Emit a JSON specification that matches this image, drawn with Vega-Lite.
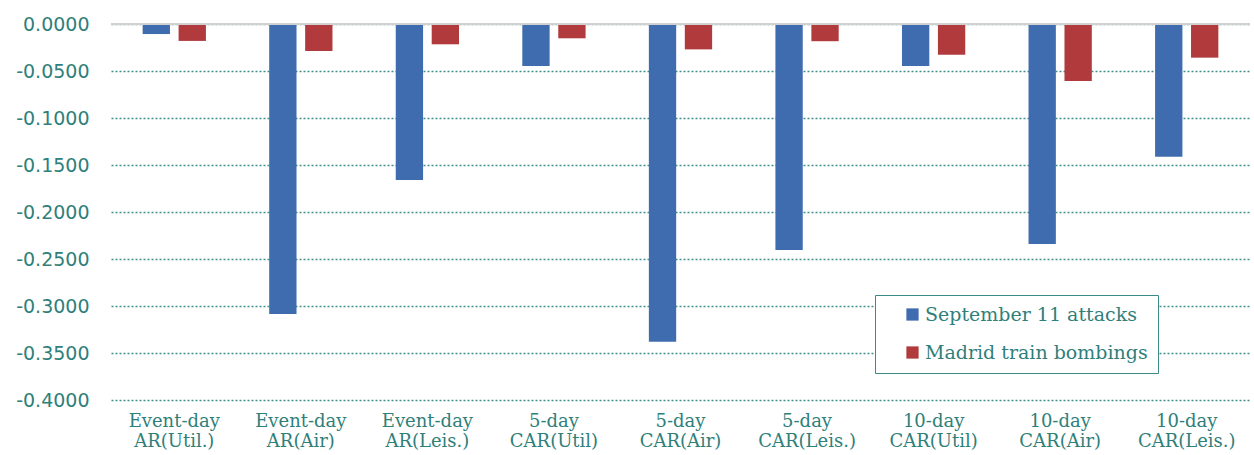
{
  "$schema": "https://vega.github.io/schema/vega-lite/v6.json",
  "width": 1139,
  "height": 376,
  "autosize": "none",
  "padding": {"left": 111, "top": 24, "right": 4, "bottom": 55},
  "background": "white",
  "config": {"view": {"stroke": null}},
  "data": {"values": [
    {"cat": "Event-day AR(Util.)", "event": "September 11 attacks", "v": -0.0107},
    {"cat": "Event-day AR(Util.)", "event": "Madrid train bombings", "v": -0.0180},
    {"cat": "Event-day AR(Air)", "event": "September 11 attacks", "v": -0.3085},
    {"cat": "Event-day AR(Air)", "event": "Madrid train bombings", "v": -0.0287},
    {"cat": "Event-day AR(Leis.)", "event": "September 11 attacks", "v": -0.1660},
    {"cat": "Event-day AR(Leis.)", "event": "Madrid train bombings", "v": -0.0216},
    {"cat": "5-day CAR(Util)", "event": "September 11 attacks", "v": -0.0447},
    {"cat": "5-day CAR(Util)", "event": "Madrid train bombings", "v": -0.0152},
    {"cat": "5-day CAR(Air)", "event": "September 11 attacks", "v": -0.3380},
    {"cat": "5-day CAR(Air)", "event": "Madrid train bombings", "v": -0.0270},
    {"cat": "5-day CAR(Leis.)", "event": "September 11 attacks", "v": -0.2405},
    {"cat": "5-day CAR(Leis.)", "event": "Madrid train bombings", "v": -0.0183},
    {"cat": "10-day CAR(Util)", "event": "September 11 attacks", "v": -0.0447},
    {"cat": "10-day CAR(Util)", "event": "Madrid train bombings", "v": -0.0327},
    {"cat": "10-day CAR(Air)", "event": "September 11 attacks", "v": -0.2340},
    {"cat": "10-day CAR(Air)", "event": "Madrid train bombings", "v": -0.0606},
    {"cat": "10-day CAR(Leis.)", "event": "September 11 attacks", "v": -0.1412},
    {"cat": "10-day CAR(Leis.)", "event": "Madrid train bombings", "v": -0.0358}
  ]},
  "layer": [
    {
      "mark": {"type": "bar"},
      "encoding": {
        "x": {
          "field": "cat", "type": "nominal", "sort": null,
          "scale": {"paddingInner": 0.5, "paddingOuter": 0.25},
          "axis": {
            "title": null, "domain": false, "ticks": false, "grid": false,
            "labelAngle": 0, "labelExpr": "split(datum.label, ' ')",
            "labelFont": "DejaVu Serif", "labelFontSize": 18, "labelColor": "#2f7f7a",
            "labelPadding": 12, "labelLineHeight": 20, "labelBaseline": "top"
          }
        },
        "xOffset": {
          "field": "event", "type": "nominal",
          "sort": ["September 11 attacks", "Madrid train bombings"],
          "scale": {"paddingInner": 0.24, "paddingOuter": 0}
        },
        "y": {
          "field": "v", "type": "quantitative",
          "scale": {"domain": [-0.4, 0], "nice": false},
          "axis": {
            "title": null, "domain": false, "ticks": false,
            "values": [0, -0.05, -0.1, -0.15, -0.2, -0.25, -0.3, -0.35, -0.4],
            "format": ".4f",
            "labelExpr": "replace(datum.label, '\u2212', '-')",
            "labelFont": "DejaVu Sans", "labelFontSize": 19, "labelColor": "#2f7f7a",
            "labelPadding": 22,
            "grid": true, "gridColor": "#3f8f8a", "gridDash": [2, 2], "gridWidth": 1.5
          }
        },
        "color": {
          "field": "event", "type": "nominal",
          "sort": ["September 11 attacks", "Madrid train bombings"],
          "scale": {"domain": ["September 11 attacks", "Madrid train bombings"], "range": ["#3f6caf", "#b03a3c"]},
          "legend": {
            "title": null, "orient": "none", "legendX": 764, "legendY": 271,
            "direction": "vertical",
            "fillColor": "white", "strokeColor": "#3a8a85",
            "padding": 10, "rowPadding": 18, "symbolOffset": 18,
            "symbolType": "square", "symbolSize": 150, "symbolStrokeWidth": 0,
            "labelFont": "DejaVu Serif", "labelFontSize": 19, "labelColor": "#2f7f7a",
            "labelOffset": 3, "labelLimit": 400
          }
        }
      }
    },
    {
      "mark": {"type": "rule", "color": "#d0d0d0", "strokeWidth": 1.5},
      "encoding": {"y": {"datum": 0}}
    }
  ]
}
